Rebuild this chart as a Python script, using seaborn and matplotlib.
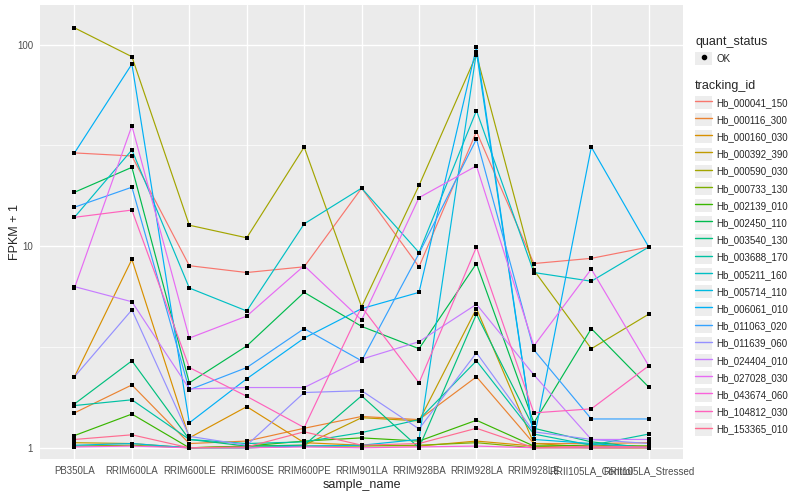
import numpy as np
import pandas as pd
import matplotlib
matplotlib.use('Agg')
import matplotlib.pyplot as plt
import seaborn as sns
from matplotlib.lines import Line2D
from matplotlib.patches import Patch

# samples on the x axis
samples = ['PB350LA', 'RRIM600LA', 'RRIM600LE', 'RRIM600SE', 'RRIM600PE', 'RRIM901LA',
           'RRIM928BA', 'RRIM928LA', 'RRIM928LE', 'RRII105LA_Control', 'RRII105LA_Stressed']

# FPKM + 1 per gene
Hb_000041_150 = [29, 28, 8.0, 7.4, 7.9, 19.4, 7.9, 37, 8.2, 8.7, 9.9]
Hb_000116_300 = [1.49, 2.05, 1.05, 1.08, 1.25, 1.43, 1.38, 2.25, 1.05, 1.05, 1.06]
Hb_000160_030 = [2.25, 8.6, 1.12, 1.6, 1.06, 1.03, 1.02, 1.08, 1.02, 1.0, 1.0]
Hb_000392_390 = [1.06, 1.05, 1.0, 1.02, 1.03, 1.41, 1.36, 4.9, 1.05, 1.01, 1.02]
Hb_000590_030 = [121, 87, 12.7, 11.0, 31, 5.0, 20, 89, 7.6, 3.1, 4.6]
Hb_000733_130 = [1.02, 1.03, 1.0, 1.0, 1.02, 1.02, 1.03, 1.06, 1.0, 1.0, 1.0]
Hb_002139_010 = [1.15, 1.47, 1.0, 1.02, 1.08, 1.12, 1.08, 1.37, 1.02, 1.03, 1.02]
Hb_002450_110 = [18.5, 24.6, 2.1, 3.2, 5.9, 4.0, 3.1, 8.2, 1.33, 3.9, 2.0]
Hb_003540_130 = [1.65, 2.7, 1.1, 1.02, 1.03, 1.81, 1.0, 4.6, 1.25, 1.07, 1.0]
Hb_003688_170 = [1.62, 1.73, 1.1, 1.05, 1.07, 1.19, 1.38, 2.7, 1.17, 1.03, 1.17]
Hb_005211_160 = [13.9, 30, 6.2, 4.77, 12.9, 19.4, 9.3, 47, 7.4, 6.7, 9.9]
Hb_005714_110 = [1.03, 1.05, 1.0, 1.0, 1.02, 1.03, 1.1, 92, 1.1, 1.05, 1.0]
Hb_006061_010 = [29, 80, 1.33, 2.2, 3.5, 4.9, 5.9, 97, 1.1, 31, 9.9]
Hb_011063_020 = [15.6, 19.6, 1.94, 2.5, 3.9, 2.7, 9.2, 34, 3.06, 1.39, 1.39]
Hb_011639_060 = [2.25, 4.83, 1.14, 1.03, 1.88, 1.92, 1.24, 2.96, 1.2, 1.1, 1.05]
Hb_024404_010 = [6.3, 5.3, 1.96, 1.99, 1.99, 2.75, 3.36, 5.15, 2.3, 1.1, 1.1]
Hb_027028_030 = [6.2, 39.5, 3.5, 4.5, 8.0, 4.3, 17.4, 25, 3.2, 7.7, 2.55]
Hb_043674_060 = [1.01, 1.02, 1.0, 1.0, 1.01, 1.0, 1.01, 1.02, 1.0, 1.0, 1.0]
Hb_104812_030 = [13.9, 15.1, 2.5, 1.8, 1.26, 5.0, 2.1, 9.9, 1.49, 1.56, 2.55]
Hb_153365_010 = [1.1, 1.16, 1.0, 1.01, 1.2, 1.03, 1.05, 1.25, 1.0, 1.02, 1.01]

genes = {
    'Hb_000041_150': Hb_000041_150, 'Hb_000116_300': Hb_000116_300,
    'Hb_000160_030': Hb_000160_030, 'Hb_000392_390': Hb_000392_390,
    'Hb_000590_030': Hb_000590_030, 'Hb_000733_130': Hb_000733_130,
    'Hb_002139_010': Hb_002139_010, 'Hb_002450_110': Hb_002450_110,
    'Hb_003540_130': Hb_003540_130, 'Hb_003688_170': Hb_003688_170,
    'Hb_005211_160': Hb_005211_160, 'Hb_005714_110': Hb_005714_110,
    'Hb_006061_010': Hb_006061_010, 'Hb_011063_020': Hb_011063_020,
    'Hb_011639_060': Hb_011639_060, 'Hb_024404_010': Hb_024404_010,
    'Hb_027028_030': Hb_027028_030, 'Hb_043674_060': Hb_043674_060,
    'Hb_104812_030': Hb_104812_030, 'Hb_153365_010': Hb_153365_010,
}

# ggplot default hue palette for 20 levels
hue_colors = ['#F8766D', '#EA8331', '#D89000', '#C09B00', '#A3A500', '#7CAE00', '#39B600',
              '#00BB4E', '#00BF7D', '#00C1A3', '#00BFC4', '#00BAE0', '#00B0F6', '#35A2FF',
              '#9590FF', '#C77CFF', '#E76BF3', '#FA62DB', '#FF62BC', '#FF6C91']

rows = []
for gid, vals in genes.items():
    for i, (s, v) in enumerate(zip(samples, vals)):
        rows.append({'tracking_id': gid, 'sample_name': s, 'pos': i, 'fpkm': v})
df = pd.DataFrame(rows)

sns.set_theme(style='darkgrid', rc={'axes.facecolor': '#EBEBEB', 'grid.color': 'white'})
plt.rcParams['font.family'] = ['Liberation Sans', 'DejaVu Sans']

fig = plt.figure(figsize=(8, 5), dpi=100)
ax = fig.add_axes([0.05, 0.082, 0.804, 0.908])

palette = dict(zip(genes.keys(), hue_colors))
sns.lineplot(data=df, x='pos', y='fpkm', hue='tracking_id', palette=palette,
             estimator=None, linewidth=0.85, legend=False, ax=ax)
sns.scatterplot(data=df, x='pos', y='fpkm', color='black', s=11, marker='s', linewidth=0,
                legend=False, ax=ax, zorder=5)

ax.set_yscale('log')
ax.set_ylim(0.88, 157)
ax.set_xlim(-0.6, 10.6)
ax.set_yticks([1, 10, 100])
ax.set_yticklabels(['1', '10', '100'])
ax.set_yticks([10 ** 0.5, 10 ** 1.5], minor=True)
ax.set_yticklabels([], minor=True)
ax.set_xticks(range(len(samples)))
ax.set_xticklabels(samples)
ax.grid(which='major', color='white', linewidth=1.0)
ax.grid(which='minor', axis='y', color='white', linewidth=0.5)
ax.tick_params(which='major', length=3, width=0.7, color='#333333', labelsize=7,
               labelcolor='#4D4D4D', pad=2)
ax.tick_params(which='minor', length=0)
for sp in ax.spines.values():
    sp.set_visible(False)
ax.set_xlabel('sample_name', fontsize=9, labelpad=2)
ax.set_ylabel('FPKM + 1', fontsize=9)
ax.yaxis.set_label_coords(-0.03, 0.5)

# legends
key_bg = '#EDEDED'
ok_handle = (Patch(facecolor=key_bg, edgecolor='none'),
             Line2D([], [], marker='o', color='black', linestyle='none', markersize=3))
leg1 = fig.legend(handles=[ok_handle], labels=['OK'], title='quant_status',
                  loc='upper left', bbox_to_anchor=(0.863, 0.938), frameon=False,
                  fontsize=7, title_fontsize=9, handlelength=1.7, handleheight=1.7,
                  handletextpad=0.5, borderpad=0, labelspacing=0.42)
leg1._legend_box.align = 'left'

gene_handles = [(Patch(facecolor=key_bg, edgecolor='none'),
                 Line2D([], [], color=c, linewidth=1.0)) for c in hue_colors]
leg2 = fig.legend(handles=gene_handles, labels=list(genes.keys()), title='tracking_id',
                  loc='upper left', bbox_to_anchor=(0.863, 0.85), frameon=False,
                  fontsize=7, title_fontsize=9, handlelength=1.7, handleheight=1.7,
                  handletextpad=0.5, borderpad=0, labelspacing=0.42)
leg2._legend_box.align = 'left'

fig.savefig('out.png', dpi=100)
